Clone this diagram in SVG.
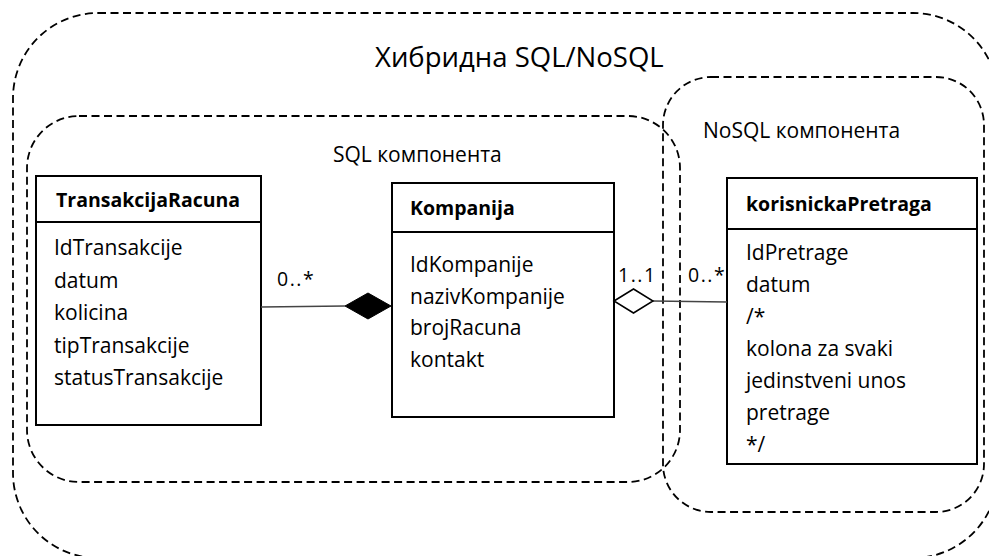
<svg xmlns="http://www.w3.org/2000/svg" width="989" height="556" viewBox="0 0 989 556">
  <style>
    .zone { fill: none; stroke: #000; stroke-width: 1.8; stroke-dasharray: 8 4.5; }
    .box { fill: #fff; stroke: #000; stroke-width: 2; }
    .sep { stroke: #000; stroke-width: 2; }
    .title { font-family: "Open Sans", "Noto Sans", sans-serif; font-size: 27.5px; fill: #000; }
    .zlabel { font-family: "Open Sans", "Noto Sans", sans-serif; font-size: 21px; fill: #000; }
    .cname { font-family: "Open Sans", "Noto Sans", sans-serif; font-size: 19.5px; font-weight: bold; fill: #000; }
    .attr { font-family: "Open Sans", "Noto Sans", sans-serif; font-size: 21px; fill: #000; }
    .mult { font-family: "Open Sans", "Noto Sans", sans-serif; font-size: 19.5px; letter-spacing: 1.5px; fill: #000; }
    .link { stroke: #444; stroke-width: 1.3; fill: none; }
  </style>

  <!-- enclosing zones -->
  <g id="zone-hybrid">
    <rect class="zone" x="13" y="13" width="985" height="545" rx="85" ry="85"/>
    <text class="title" x="375" y="67">Хибридна SQL/NoSQL</text>
  </g>
  <g id="zone-sql">
    <rect class="zone" x="27" y="116" width="653" height="366" rx="52" ry="52"/>
    <text class="zlabel" x="333" y="162">SQL компонента</text>
  </g>
  <g id="zone-nosql">
    <rect class="zone" x="663" y="77" width="321" height="435" rx="48" ry="48"/>
    <text class="zlabel" x="703" y="138">NoSQL компонента</text>
  </g>

  <!-- classes -->
  <g id="TransakcijaRacuna">
    <rect class="box" x="36" y="176" width="225" height="249"/>
    <line class="sep" x1="36" y1="222" x2="261" y2="222"/>
    <text class="cname" x="56" y="207">TransakcijaRacuna</text>
    <text class="attr" x="54" y="255">IdTransakcije</text>
    <text class="attr" x="54" y="288">datum</text>
    <text class="attr" x="54" y="320">kolicina</text>
    <text class="attr" x="54" y="353">tipTransakcije</text>
    <text class="attr" x="54" y="385">statusTransakcije</text>
  </g>

  <g id="Kompanija">
    <rect class="box" x="392" y="183" width="222" height="234"/>
    <line class="sep" x1="392" y1="232" x2="614" y2="232"/>
    <text class="cname" x="410" y="215">Kompanija</text>
    <text class="attr" x="410" y="272">IdKompanije</text>
    <text class="attr" x="410" y="304">nazivKompanije</text>
    <text class="attr" x="410" y="335">brojRacuna</text>
    <text class="attr" x="410" y="367">kontakt</text>
  </g>

  <g id="korisnickaPretraga">
    <rect class="box" x="727" y="178" width="250" height="286"/>
    <line class="sep" x1="727" y1="229" x2="977" y2="229"/>
    <text class="cname" x="746" y="211">korisnickaPretraga</text>
    <text class="attr" x="746" y="260">IdPretrage</text>
    <text class="attr" x="746" y="292">datum</text>
    <text class="attr" x="746" y="324">/*</text>
    <text class="attr" x="746" y="356">kolona za svaki</text>
    <text class="attr" x="746" y="388">jedinstveni unos</text>
    <text class="attr" x="746" y="420">pretrage</text>
    <text class="attr" x="746" y="452">*/</text>
  </g>

  <!-- associations -->
  <g id="connectors">
    <line class="link" x1="261" y1="307" x2="345" y2="306"/>
    <polygon points="345,306 368,293 391,306 368,319" fill="#000" stroke="#000" stroke-width="1"/>
    <text class="mult" x="277" y="286">0..*</text>

    <line class="link" x1="653" y1="301" x2="727" y2="302"/>
    <polygon points="614,301 633.5,289 653,301 633.5,313" fill="#fff" stroke="#000" stroke-width="1.5"/>
    <text class="mult" x="618" y="282">1..1</text>
    <text class="mult" x="688" y="282">0..*</text>
  </g>
</svg>
